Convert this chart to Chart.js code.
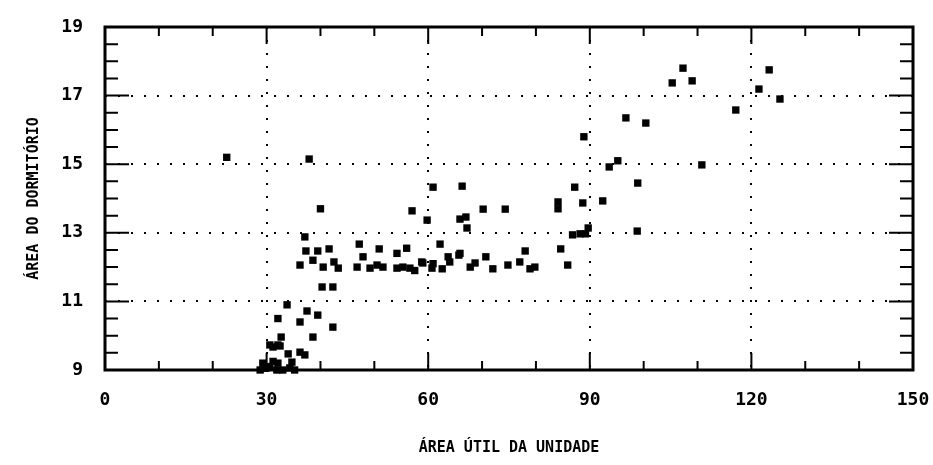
<!DOCTYPE html>
<html lang="pt-br">
<head>
<meta charset="UTF-8" />
<title>Área do dormitório x área útil da unidade</title>
<script src="https://cdn.jsdelivr.net/npm/chart.js"></script>
<style>
  body { margin: 0; background: #fff; }
</style>
</head>
<body>
<canvas id="chart" width="933" height="465"></canvas>
<script>
// valores (área útil x área do dormitório)
const areaUtil = [
  28.8, 29.3, 29.8, 30.6, 31.2, 31.9, 32.1, 33.0, 34.3, 34.7, 35.2,
  30.6, 31.2, 32.1, 32.5, 34.0, 36.2, 37.1, 32.7, 38.6, 32.1, 36.2, 37.5, 39.5, 42.3, 33.8, 40.3, 42.3,
  37.1, 37.3, 39.5, 41.6, 38.6, 36.2, 40.5, 42.5, 43.3, 47.2, 47.9, 46.8, 50.9, 49.2, 50.5, 51.6,
  54.2, 56.0, 54.2, 55.3, 56.6, 57.5, 58.8, 59.0, 60.7, 60.9, 62.2, 62.6, 63.7, 64.0, 65.7, 65.9,
  67.8, 68.7, 70.7, 72.0, 74.8, 77.0, 78.0, 78.9, 79.8, 84.6, 85.9,
  40.0, 57.0, 59.8, 60.9, 65.9, 66.3, 67.0, 67.2, 70.2, 74.3, 84.1, 84.1, 87.2, 88.7, 92.4,
  86.8, 88.2, 89.2, 89.7, 98.8, 98.9, 88.9, 93.6, 95.2, 22.6, 37.9,
  96.7, 100.4, 105.3, 107.3, 109.0, 110.8, 117.1, 121.4, 123.3, 125.3
];
const areaDorm = [
  9.0, 9.2, 9.05, 9.1, 9.25, 9.0, 9.2, 9.0, 9.06, 9.23, 9.0,
  9.73, 9.67, 9.73, 9.7, 9.47, 9.52, 9.44, 9.96, 9.96, 10.5, 10.4, 10.72, 10.6, 10.25, 10.9, 11.42, 11.42,
  12.88, 12.47, 12.47, 12.53, 12.2, 12.06, 12.0, 12.15, 11.97, 12.67, 12.3, 12.0, 12.53, 11.97, 12.06, 12.0,
  12.4, 12.55, 11.97, 12.0, 11.97, 11.9, 12.15, 12.12, 11.97, 12.1, 12.67, 11.95, 12.3, 12.15, 12.35, 12.4,
  12.0, 12.12, 12.3, 11.95, 12.06, 12.15, 12.47, 11.95, 12.0, 12.53, 12.06,
  13.7, 13.64, 13.37, 14.33, 13.4, 14.36, 13.46, 13.14, 13.69, 13.69, 13.9, 13.7, 14.33, 13.87, 13.93,
  12.94, 12.97, 12.97, 13.14, 13.05, 14.45, 15.8, 14.92, 15.1, 15.2, 15.15,
  16.35, 16.2, 17.37, 17.8, 17.43, 14.98, 16.58, 17.19, 17.75, 16.9
];
const xTickLabels = ["0", "30", "60", "90", "120", "150"];
const yTickLabels = ["9", "11", "13", "15", "17", "19"];

const pontos = areaUtil.map((x, i) => ({ x: x, y: areaDorm[i] }));

const fonteNum = { family: "DejaVu Sans Mono", size: 18, weight: "bold" };
const fonteTit = { family: "DejaVu Sans Mono", size: 15, weight: "bold" };

// moldura e tracinhos das escalas
const moldura = {
  id: "moldura",
  afterDatasetsDraw(chart) {
    const ctx = chart.ctx;
    const a = chart.chartArea;
    const sx = chart.scales.x, sy = chart.scales.y;
    ctx.save();
    ctx.strokeStyle = "#000";
    ctx.lineWidth = 2;
    ctx.beginPath();
    for (let v = 10; v < 150; v += 10) {
      const px = sx.getPixelForValue(v);
      const len = v % 30 === 0 ? 17 : 9;
      ctx.moveTo(px, a.bottom); ctx.lineTo(px, a.bottom - len);
      ctx.moveTo(px, a.top); ctx.lineTo(px, a.top + len);
    }
    for (let v = 9.5; v < 19; v += 0.5) {
      const py = sy.getPixelForValue(v);
      const len = (v % 2 === 1) ? 24 : 13;
      ctx.moveTo(a.left, py); ctx.lineTo(a.left + len, py);
      ctx.moveTo(a.right, py); ctx.lineTo(a.right - len, py);
    }
    ctx.stroke();
    ctx.lineWidth = 3;
    ctx.strokeRect(a.left, a.top, a.right - a.left, a.bottom - a.top);
    ctx.restore();
  }
};

new Chart(document.getElementById("chart"), {
  type: "scatter",
  data: {
    datasets: [{
      data: pontos,
      pointStyle: "rect",
      pointRadius: 5.2,
      pointBorderWidth: 0,
      backgroundColor: "#000",
      borderColor: "#000",
      clip: false
    }]
  },
  options: {
    responsive: false,
    animation: false,
    layout: { padding: { left: 0, top: 27, right: 20, bottom: 0 } },
    plugins: { legend: { display: false }, tooltip: { enabled: false } },
    scales: {
      x: {
        type: "linear",
        min: 0, max: 150,
        afterFit(s) { s.height = 95; s.paddingLeft = 0; s.paddingRight = 0; },
        ticks: {
          stepSize: 10,
          color: "#000",
          font: fonteNum,
          padding: 20,
          maxRotation: 0,
          autoSkip: false,
          callback: v => xTickLabels.includes(String(v)) ? String(v) : ""
        },
        grid: {
          drawTicks: false,
          lineWidth: 2,
          color: c => (c.tick && c.tick.value % 30 === 0 && c.tick.value > 0 && c.tick.value < 150) ? "#000" : "rgba(0,0,0,0)"
        },
        border: { display: false, dash: [2, 11] },
        title: { display: true, text: "ÁREA ÚTIL DA UNIDADE", color: "#000", font: fonteTit, padding: { top: 0, bottom: 8 } }
      },
      y: {
        type: "linear",
        min: 9, max: 19,
        afterFit(s) { s.width = 105; s.paddingTop = 0; s.paddingBottom = 0; },
        ticks: {
          stepSize: 0.5,
          color: "#000",
          font: fonteNum,
          padding: 22,
          autoSkip: false,
          callback: v => yTickLabels.includes(String(v)) ? String(v) : ""
        },
        grid: {
          drawTicks: false,
          lineWidth: 2,
          color: c => (c.tick && [11, 13, 15, 17].includes(c.tick.value)) ? "#000" : "rgba(0,0,0,0)"
        },
        border: { display: false, dash: [2, 11] },
        title: { display: true, text: "ÁREA DO DORMITÓRIO", color: "#000", font: fonteTit, padding: { top: 25, bottom: 0 } }
      }
    }
  },
  plugins: [moldura]
});
</script>
</body>
</html>
